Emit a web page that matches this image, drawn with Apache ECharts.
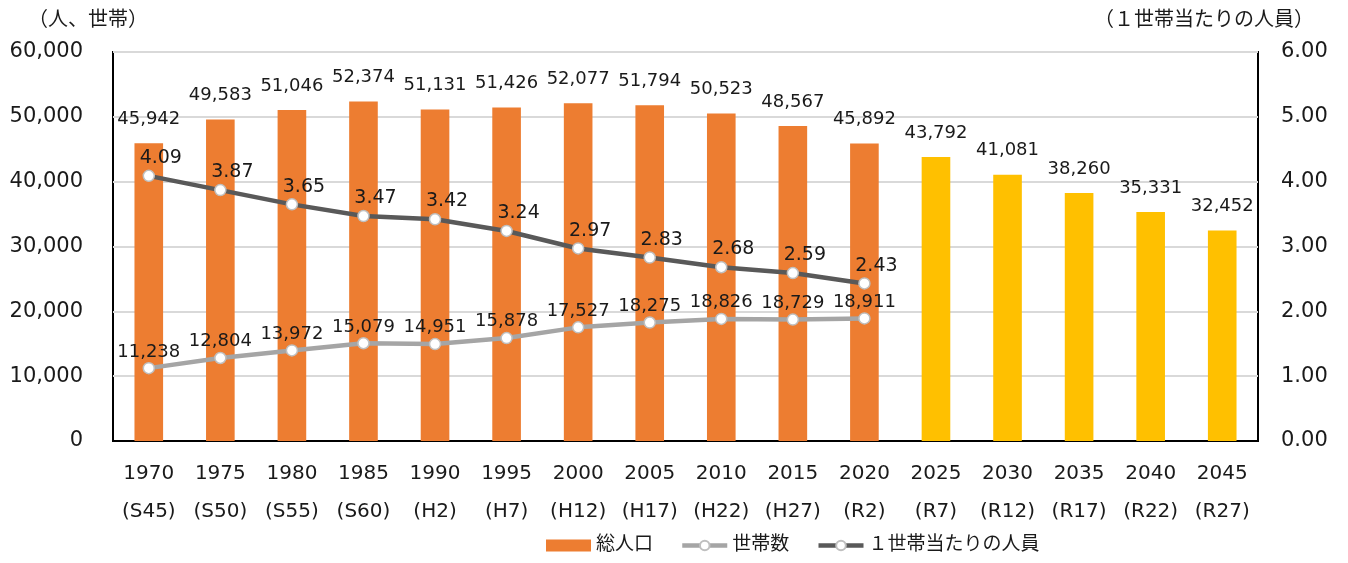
<!DOCTYPE html>
<html>
<head>
<meta charset="utf-8">
<script src="https://cdn.jsdelivr.net/npm/echarts@6/dist/echarts.min.js"></script>
<style>
  html, body { margin: 0; padding: 0; background: #fff; }
  #main { width: 1348px; height: 563px; }
</style>
</head>
<body>
<div id="main"></div>
<script>
// 年次（西暦＋和暦）
let years = ['1970', '1975', '1980', '1985', '1990', '1995', '2000', '2005', '2010', '2015', '2020', '2025', '2030', '2035', '2040', '2045'];
let eras = ['(S45)', '(S50)', '(S55)', '(S60)', '(H2)', '(H7)', '(H12)', '(H17)', '(H22)', '(H27)', '(R2)', '(R7)', '(R12)', '(R17)', '(R22)', '(R27)'];
// 総人口（2025以降は推計）
let population = [45942, 49583, 51046, 52374, 51131, 51426, 52077, 51794, 50523, 48567, 45892, 43792, 41081, 38260, 35331, 32452];
let firstProjection = 11;
// 世帯数
let households = [11238, 12804, 13972, 15079, 14951, 15878, 17527, 18275, 18826, 18729, 18911];
// 1世帯当たりの人員
let perHousehold = [4.09, 3.87, 3.65, 3.47, 3.42, 3.24, 2.97, 2.83, 2.68, 2.59, 2.43];
let leftTicks = [0, 60000, 10000];
let rightTicks = [0, 6, 1];

const FONT = '"DejaVu Sans", "Noto Sans CJK JP", sans-serif';
const TXT = '#1a1a1a';

let mainchart = echarts.init(document.getElementById('main'));

let categories = [];
for (let t = 0; t < years.length; t++) {
    categories.push(years[t] + '\n' + eras[t]);
}

let barData = [];
for (let t = 0; t < population.length; t++) {
    barData.push({
        value: population[t],
        itemStyle: { color: t >= firstProjection ? '#FFC000' : '#ED7D31' }
    });
}

let chart_config = {
    animation: false,
    textStyle: { fontFamily: FONT },
    grid: {
        left: 113, right: 90, top: 52, bottom: 122,
        show: true, borderColor: '#000', borderWidth: 2, backgroundColor: 'transparent'
    },
    graphic: [
        { type: 'text', left: 28, top: 11, style: { text: '（人、世帯）', fontSize: 20, fill: TXT, fontFamily: FONT } },
        { type: 'text', right: 34, top: 11, style: { text: '（１世帯当たりの人員）', fontSize: 20, fill: TXT, fontFamily: FONT } }
    ],
    legend: {
        bottom: 3,
        left: 541,
        itemGap: 27,
        itemWidth: 45,
        itemHeight: 12,
        lineStyle: { width: 4.5 },
        textStyle: { fontSize: 19, color: TXT, fontFamily: FONT },
        data: [
            { name: '総人口', icon: 'rect' },
            { name: '世帯数' },
            { name: '１世帯当たりの人員' }
        ]
    },
    xAxis: {
        type: 'category',
        data: categories,
        axisTick: { show: false },
        axisLine: { lineStyle: { color: '#000', width: 2 } },
        axisLabel: {
            color: TXT, fontSize: 20, lineHeight: 38, margin: 14, interval: 0, fontFamily: FONT
        }
    },
    yAxis: [{
        type: 'value',
        min: leftTicks[0], max: leftTicks[1], interval: leftTicks[2],
        axisLine: { show: false },
        axisTick: { show: false },
        splitLine: { lineStyle: { color: '#D9D9D9', width: 2 } },
        axisLabel: {
            color: TXT, fontSize: 21, margin: 30, fontFamily: FONT,
            formatter: function (v) { return v.toLocaleString('en-US'); }
        }
    }, {
        type: 'value',
        min: rightTicks[0], max: rightTicks[1], interval: rightTicks[2],
        axisLine: { show: false },
        axisTick: { show: false },
        splitLine: { show: false },
        axisLabel: {
            color: TXT, fontSize: 21, margin: 23, fontFamily: FONT,
            formatter: function (v) { return v.toFixed(2); }
        }
    }],
    series: [{
        name: '総人口',
        type: 'bar',
        barWidth: '40%',
        itemStyle: { color: '#ED7D31' },
        data: barData,
        label: {
            show: true, position: 'top', distance: 15,
            color: TXT, fontSize: 18, fontFamily: FONT,
            formatter: function (p) { return p.value.toLocaleString('en-US'); }
        },
        z: 1
    }, {
        name: '世帯数',
        type: 'line',
        data: households,
        color: '#A5A5A5',
        lineStyle: { color: '#A5A5A5', width: 4.5 },
        symbol: 'circle',
        symbolSize: 11,
        itemStyle: { color: '#fff', borderColor: '#BFBFBF', borderWidth: 1.5 },
        label: {
            show: true, position: 'top', distance: 1,
            color: TXT, fontSize: 18, fontFamily: FONT,
            formatter: function (p) { return p.value.toLocaleString('en-US'); }
        },
        z: 3
    }, {
        name: '１世帯当たりの人員',
        type: 'line',
        yAxisIndex: 1,
        data: perHousehold,
        color: '#595959',
        lineStyle: { color: '#595959', width: 4.5 },
        symbol: 'circle',
        symbolSize: 11,
        itemStyle: { color: '#fff', borderColor: '#BFBFBF', borderWidth: 1.5 },
        label: {
            show: true, position: 'top', distance: 2, offset: [12, 0],
            color: TXT, fontSize: 19, fontFamily: FONT,
            formatter: function (p) { return p.value.toFixed(2); }
        },
        z: 3
    }]
};
mainchart.setOption(chart_config);
</script>
</body>
</html>
